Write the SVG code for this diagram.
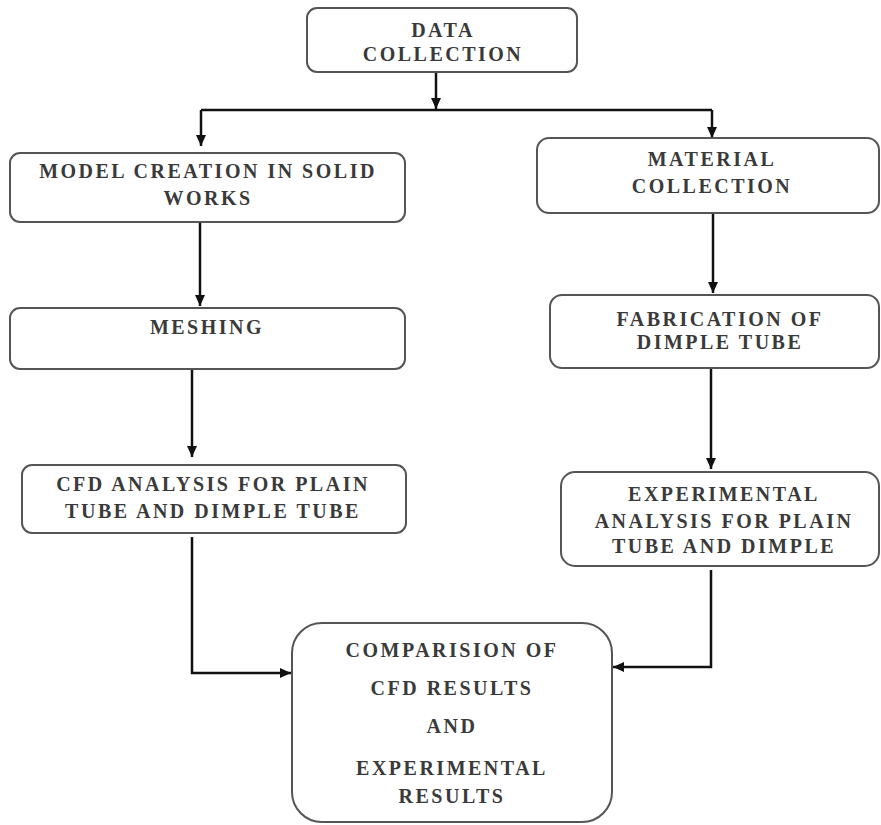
<svg xmlns="http://www.w3.org/2000/svg" width="881" height="825" viewBox="0 0 881 825">
<defs>
<marker id="ah" markerUnits="userSpaceOnUse" markerWidth="12" markerHeight="12" viewBox="0 0 12 12" refX="11" refY="6" orient="auto">
<path d="M0,1 L11,6 L0,11 Z" fill="#111"/>
</marker>
</defs>
<style>
.box{fill:#fff;stroke:#555;stroke-width:2}
.t{font-size:20px;letter-spacing:2.5px;fill:#3a3a3a;text-anchor:middle;font-weight:bold}
.c{fill:none;stroke:#111;stroke-width:2.5}
.a{marker-end:url(#ah)}
</style>
<rect width="881" height="825" fill="#fff"/>
<g id="connectors">
<line class="c a" x1="436" y1="73" x2="436" y2="109"/>
<polyline class="c" points="201,110 712,110"/>
<line class="c a" x1="201" y1="110" x2="201" y2="146"/>
<line class="c a" x1="712" y1="110" x2="712" y2="138"/>
<line class="c a" x1="200" y1="223" x2="200" y2="306"/>
<line class="c a" x1="192" y1="370" x2="192" y2="457"/>
<polyline class="c a" points="192,537 192,673 291,673"/>
<line class="c a" x1="713" y1="214" x2="713" y2="293"/>
<line class="c a" x1="711" y1="369" x2="711" y2="469"/>
<polyline class="c a" points="711,570 711,667 613,667"/>
</g>
<g font-family="'Liberation Serif', 'Times New Roman', serif">
<g id="data-collection">
<rect class="box" x="307" y="8" width="270" height="64" rx="10"/>
<text class="t" x="443" y="37">DATA</text>
<text class="t" x="443" y="61">COLLECTION</text>
</g>
<g id="model-creation">
<rect class="box" x="10" y="153" width="395" height="69" rx="10"/>
<text class="t" x="208" y="178">MODEL CREATION IN SOLID</text>
<text class="t" x="208" y="205">WORKS</text>
</g>
<g id="meshing">
<rect class="box" x="10" y="308" width="395" height="61" rx="10"/>
<text class="t" x="207" y="334">MESHING</text>
</g>
<g id="cfd-analysis">
<rect class="box" x="22" y="465" width="384" height="68" rx="10"/>
<text class="t" x="213" y="491">CFD ANALYSIS FOR PLAIN</text>
<text class="t" x="213" y="518">TUBE AND DIMPLE TUBE</text>
</g>
<g id="material-collection">
<rect class="box" x="537" y="138" width="342" height="75" rx="12"/>
<text class="t" x="712" y="166">MATERIAL</text>
<text class="t" x="712" y="193">COLLECTION</text>
</g>
<g id="fabrication">
<rect class="box" x="550" y="295" width="329" height="73" rx="12"/>
<text class="t" x="720" y="326">FABRICATION OF</text>
<text class="t" x="720" y="349">DIMPLE TUBE</text>
</g>
<g id="experimental-analysis">
<rect class="box" x="561" y="472" width="318" height="94" rx="14"/>
<text class="t" x="724" y="501">EXPERIMENTAL</text>
<text class="t" x="724" y="528">ANALYSIS FOR PLAIN</text>
<text class="t" x="724" y="553">TUBE AND DIMPLE</text>
</g>
<g id="comparision">
<rect class="box" x="292" y="623" width="320" height="199" rx="30"/>
<text class="t" x="452" y="657">COMPARISION OF</text>
<text class="t" x="452" y="695">CFD RESULTS</text>
<text class="t" x="452" y="733">AND</text>
<text class="t" x="452" y="775">EXPERIMENTAL</text>
<text class="t" x="452" y="803">RESULTS</text>
</g>
</g>
</svg>
